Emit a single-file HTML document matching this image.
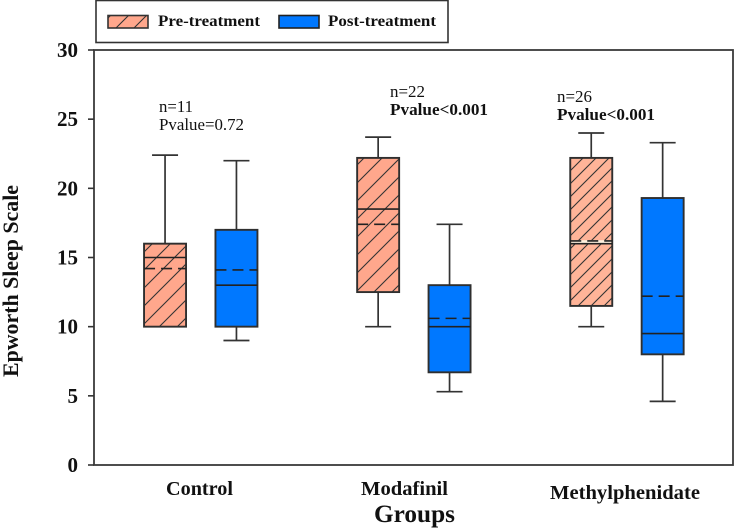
<!DOCTYPE html>
<html>
<head>
<meta charset="utf-8">
<title>Epworth Sleep Scale box plot</title>
<style>
html,body{margin:0;padding:0;background:#fff;}
svg{display:block;}
text{font-family:"Liberation Serif",serif;fill:#111;}
</style>
</head>
<body>
<svg id="chart" xmlns="http://www.w3.org/2000/svg" width="734" height="528" viewBox="0 0 734 528">
  <defs>
    <pattern id="hatch-wide" patternUnits="userSpaceOnUse" width="18" height="18">
      <rect width="18" height="18" fill="#FFA78C"/>
      <path d="M-2 2L2 -2M0 18L18 0M16 20L20 16" stroke="#333" stroke-width="1.1"/>
    </pattern>
    <pattern id="hatch-dense" patternUnits="userSpaceOnUse" width="13" height="13">
      <rect width="13" height="13" fill="#FFB498"/>
      <path d="M-2 2L2 -2M0 13L13 0M11 15L15 11" stroke="#333" stroke-width="1.1"/>
    </pattern>
  </defs>

  <g>
    <rect x="96" y="0.5" width="352" height="42" fill="#fff" stroke="#333" stroke-width="1.6"/>
    <rect x="108" y="15.5" width="40" height="12.5" fill="url(#hatch-wide)" stroke="#333" stroke-width="1.6"/>
    <text x="158" y="26" font-size="16" font-weight="bold" textLength="102" lengthAdjust="spacingAndGlyphs">Pre-treatment</text>
    <rect x="279" y="15.5" width="40" height="12.5" fill="#0078FF" stroke="#222" stroke-width="1.6"/>
    <text x="328" y="26" font-size="16" font-weight="bold" textLength="108" lengthAdjust="spacingAndGlyphs">Post-treatment</text>
  </g>

  <g id="axes"></g>
  <g id="boxes"></g>

  <g>
    <text x="159" y="112" font-size="16.5" textLength="34" lengthAdjust="spacingAndGlyphs">n=11</text>
    <text x="159" y="130" font-size="16.5" textLength="85" lengthAdjust="spacingAndGlyphs">Pvalue=0.72</text>
    <text x="390" y="97" font-size="16.5" textLength="35" lengthAdjust="spacingAndGlyphs">n=22</text>
    <text x="390" y="115" font-size="16.5" font-weight="bold" textLength="98" lengthAdjust="spacingAndGlyphs">Pvalue&lt;0.001</text>
    <text x="557" y="102" font-size="16.5" textLength="35" lengthAdjust="spacingAndGlyphs">n=26</text>
    <text x="557" y="120" font-size="16.5" font-weight="bold" textLength="98" lengthAdjust="spacingAndGlyphs">Pvalue&lt;0.001</text>
  </g>

  <text transform="translate(18,377) rotate(-90)" font-size="22" font-weight="bold" textLength="192" lengthAdjust="spacingAndGlyphs">Epworth Sleep Scale</text>
  <text x="166" y="495" font-size="20" font-weight="bold" textLength="67" lengthAdjust="spacingAndGlyphs">Control</text>
  <text x="361" y="495" font-size="20" font-weight="bold" textLength="87" lengthAdjust="spacingAndGlyphs">Modafinil</text>
  <text x="550" y="499" font-size="20" font-weight="bold" textLength="150" lengthAdjust="spacingAndGlyphs">Methylphenidate</text>
  <text x="374" y="522" font-size="25" font-weight="bold" textLength="81" lengthAdjust="spacingAndGlyphs">Groups</text>
</svg>

<script>
var yTicks = [0, 5, 10, 15, 20, 25, 30];
var categories = ["Control", "Modafinil", "Methylphenidate"];

var preWhiskerLow  = [10, 10, 10];
var preQ1          = [10, 12.5, 11.5];
var preMedian      = [15, 18.5, 16];
var preMean        = [14.2, 17.4, 16.2];
var preQ3          = [16, 22.2, 22.2];
var preWhiskerHigh = [22.4, 23.7, 24];

var postWhiskerLow  = [9, 5.3, 4.6];
var postQ1          = [10, 6.7, 8];
var postMedian      = [13, 10, 9.5];
var postMean        = [14.1, 10.6, 12.2];
var postQ3          = [17, 13, 19.3];
var postWhiskerHigh = [22, 17.4, 23.3];

var NS = "http://www.w3.org/2000/svg";
var axes = document.getElementById("axes");
var boxes = document.getElementById("boxes");

function yScale(v) { return 465 - v * (415 / 30); }
function xGroup(i) { return 200.75 + i * 213.1; }

function make(tag, parent, props) {
  var el = document.createElementNS(NS, tag);
  for (var k in props) { el.setAttribute(k, props[k]); }
  parent.appendChild(el);
  return el;
}
function line(parent, x1, y1, x2, y2, w, color, dash) {
  var props = { x1: x1, y1: y1, x2: x2, y2: y2, stroke: color || "#333", "stroke-width": w || 1.5 };
  if (dash) { props["stroke-dasharray"] = dash; }
  return make("line", parent, props);
}

var frame = make("rect", axes, { x: 94, y: yScale(30), width: 639, height: yScale(0) - yScale(30), fill: "none", stroke: "#3a3a3a", "stroke-width": 1.8 });



yTicks.forEach(function (t) {
  var tick = line(axes, 88, yScale(t), 94, yScale(t), 1.6);
  
  
  var label = make("text", axes, { x: 78, y: yScale(t) + 7, "text-anchor": "end", "font-size": 21, "font-weight": "bold" });
  label.textContent = t;
  
  
});

function drawBox(cx, w, low, q1, med, mean, q3, high, fill, halo) {
  var g = make("g", boxes, {});
  
  

  var wTop = line(g, cx, yScale(high), cx, yScale(q3), 1.7);
  
  
  var capTop = line(g, cx - 13, yScale(high), cx + 13, yScale(high), 1.7);
  
  
  var wLow = line(g, cx, yScale(q1), cx, yScale(low), 1.7);
  
  
  var capLow = line(g, cx - 13, yScale(low), cx + 13, yScale(low), 1.7);
  
  

  var rect = make("rect", g, { x: cx - w / 2, y: yScale(q3), width: w, height: yScale(q1) - yScale(q3), fill: fill, stroke: "#2f2f2f", "stroke-width": 1.9 });
  
  

  if (halo) {
    var band = line(g, cx - w / 2 + 1, (yScale(med) + yScale(mean)) / 2, cx + w / 2 - 1, (yScale(med) + yScale(mean)) / 2, 4, "#FFF3E0");
    
    
  }

  var medLine = line(g, cx - w / 2, yScale(med), cx + w / 2, yScale(med), 1.6, "#222");
  
  
  var meanLine = line(g, cx - w / 2, yScale(mean), cx + w / 2, yScale(mean), 1.6, "#222", "11 6");
  
  
}

var boxWidth = 42;
var offset = 35.7;
categories.forEach(function (c, i) {
  var preFill = i === 2 ? "url(#hatch-dense)" : "url(#hatch-wide)";
  drawBox(xGroup(i) - offset, boxWidth, preWhiskerLow[i], preQ1[i], preMedian[i], preMean[i], preQ3[i], preWhiskerHigh[i], preFill, i === 2);
  drawBox(xGroup(i) + offset, boxWidth, postWhiskerLow[i], postQ1[i], postMedian[i], postMean[i], postQ3[i], postWhiskerHigh[i], "#0078FF", false);
});
</script>
</body>
</html>
